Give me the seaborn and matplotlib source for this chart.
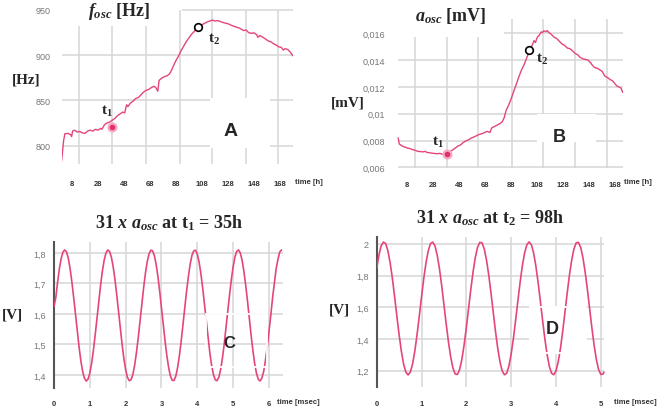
import matplotlib
matplotlib.use('Agg')
import matplotlib.pyplot as plt
import seaborn as sns
from matplotlib.patches import Rectangle

# ---- panel A: oscillation frequency vs time ----
freq_hours = [0, 1.5, 2.5, 5, 7, 7.7, 8.5, 10, 12, 14, 16, 18, 20, 22, 24, 26, 28, 30, 31, 33,
              35, 37, 39, 41, 43, 45, 47, 48.5, 50, 51, 53, 55, 57, 59, 61, 63, 65, 67, 69, 71,
              72.5, 74, 75, 77, 79, 81, 83, 84.5, 86, 88, 90, 92, 94, 96, 98, 100, 102, 103.5,
              105, 106.5, 108, 110, 112, 114, 116, 118, 120, 122, 125, 128, 131, 134, 137, 140,
              142, 144, 146, 148, 150, 151, 152.5, 155, 157, 159, 161, 163, 165, 167, 169,
              170.5, 172, 174, 176, 178]
freq_hz = [783, 805, 813, 813.5, 812, 810, 816, 817, 815, 815.5, 814, 813.5, 816, 817, 816, 818,
           817, 819, 818, 823, 825, 826, 828, 830, 833, 835, 837, 836, 845, 843, 847, 849, 852,
           853, 856, 859, 861, 862, 864, 865.5, 864, 860, 872, 874.5, 876, 877, 879, 883, 888,
           894, 899, 905, 910, 915, 919, 923, 926, 929, 931, 930.5, 933.5, 935, 936.5, 937.5,
           938.5, 937.5, 938, 937, 935.5, 934.5, 932.5, 931, 929.5, 927, 927.5, 924.5, 924,
           924.5, 922.5, 919.5, 921.5, 919.5, 917.5, 915.5, 914.5, 912.5, 911, 909, 908.5,
           905.5, 907, 906, 903, 899]
freq_t1 = [39, 821]
freq_t2 = [104.7, 930.5]
freq_yticks = [800, 850, 900, 950]
freq_ylabels = ['800', '850', '900', '950']

# ---- panel B: oscillation amplitude vs time ----
amp_hours = [1, 1.8, 4, 6, 8, 10, 12, 14, 16, 18, 20, 22, 23, 25, 27, 29, 31, 33, 35, 37, 39,
             41, 43, 45, 47, 49, 51, 53, 55, 57, 59, 61, 63, 65, 67, 69, 70.5, 71.5, 73, 75, 77,
             79, 81, 82.5, 84, 86, 88, 90, 92, 94, 96, 98, 100, 102, 104, 105.5, 106.5, 108,
             109.5, 111, 112, 113, 114.5, 115.5, 117, 119, 121, 123, 125, 127, 129, 131, 133,
             135, 137, 139, 141, 143, 145, 147, 149, 150.5, 152, 154, 156, 158, 160, 162, 164,
             166, 168, 169.5, 171, 172.5, 173.6]
amp_mv = [0.0082, 0.00775, 0.0076, 0.00752, 0.00745, 0.0074, 0.00733, 0.00728, 0.0072, 0.00718,
          0.00716, 0.0072, 0.00712, 0.0071, 0.00706, 0.00704, 0.00702, 0.00705, 0.00698,
          0.00703, 0.00708, 0.00718, 0.00731, 0.00745, 0.0076, 0.00768, 0.00785, 0.00798,
          0.00805, 0.00818, 0.00826, 0.00835, 0.00845, 0.0085, 0.00858, 0.00868, 0.00865,
          0.0086, 0.00895, 0.00905, 0.00915, 0.00925, 0.0094, 0.0097, 0.01025, 0.01065,
          0.01115, 0.0117, 0.01225, 0.0128, 0.0133, 0.0137, 0.0142, 0.0147, 0.0151, 0.01545,
          0.0153, 0.0157, 0.01585, 0.0161, 0.01605, 0.01618, 0.01612, 0.0162, 0.01605, 0.0159,
          0.0157, 0.0156, 0.0154, 0.0152, 0.0151, 0.0149, 0.01485, 0.0147, 0.0145, 0.0144,
          0.0142, 0.0141, 0.01405, 0.014, 0.0138, 0.0136, 0.01345, 0.0134, 0.01328, 0.01315,
          0.0128, 0.0127, 0.01255, 0.01245, 0.0122, 0.01205, 0.012, 0.0119, 0.0116]
amp_t1 = [38.3, 0.00701]
amp_t2 = [101.6, 0.01478]
amp_yticks = [0.006, 0.008, 0.010, 0.012, 0.014, 0.016]
amp_ylabels = ['0,006', '0,008', '0,01', '0,012', '0,014', '0,016']

hour_ticks = [8, 28, 48, 68, 88, 108, 128, 148, 168]

# ---- panel C: signal at t1 = 35h (read every 0.05 ms) ----
sig1_ms = [0.00, 0.05, 0.10, 0.15, 0.20, 0.25, 0.30, 0.35, 0.40, 0.45, 0.50, 0.55, 0.60, 0.65,
           0.70, 0.75, 0.80, 0.85, 0.90, 0.95, 1.00, 1.05, 1.10, 1.15, 1.20, 1.25, 1.30, 1.35,
           1.40, 1.45, 1.50, 1.55, 1.60, 1.65, 1.70, 1.75, 1.80, 1.85, 1.90, 1.95, 2.00, 2.05,
           2.10, 2.15, 2.20, 2.25, 2.30, 2.35, 2.40, 2.45, 2.50, 2.55, 2.60, 2.65, 2.70, 2.75,
           2.80, 2.85, 2.90, 2.95, 3.00, 3.05, 3.10, 3.15, 3.20, 3.25, 3.30, 3.35, 3.40, 3.45,
           3.50, 3.55, 3.60, 3.65, 3.70, 3.75, 3.80, 3.85, 3.90, 3.95, 4.00, 4.05, 4.10, 4.15,
           4.20, 4.25, 4.30, 4.35, 4.40, 4.45, 4.50, 4.55, 4.60, 4.65, 4.70, 4.75, 4.80, 4.85,
           4.90, 4.95, 5.00, 5.05, 5.10, 5.15, 5.20, 5.25, 5.30, 5.35, 5.40, 5.45, 5.50, 5.55,
           5.60, 5.65, 5.70, 5.75, 5.80, 5.85, 5.90, 5.95, 6.00, 6.05, 6.10, 6.15, 6.20, 6.25,
           6.30, 6.35]
sig1_v = [1.625, 1.653, 1.704, 1.748, 1.782, 1.803, 1.810, 1.803, 1.782, 1.748, 1.704, 1.653,
          1.598, 1.543, 1.491, 1.446, 1.411, 1.389, 1.380, 1.386, 1.406, 1.438, 1.481, 1.532,
          1.587, 1.642, 1.694, 1.740, 1.776, 1.800, 1.810, 1.805, 1.787, 1.756, 1.714, 1.664,
          1.609, 1.553, 1.501, 1.454, 1.417, 1.392, 1.381, 1.384, 1.401, 1.431, 1.472, 1.521,
          1.575, 1.631, 1.684, 1.732, 1.770, 1.796, 1.809, 1.807, 1.792, 1.763, 1.723, 1.674,
          1.620, 1.565, 1.511, 1.463, 1.424, 1.396, 1.382, 1.382, 1.396, 1.424, 1.463, 1.511,
          1.564, 1.620, 1.674, 1.722, 1.763, 1.792, 1.807, 1.809, 1.796, 1.770, 1.732, 1.685,
          1.631, 1.576, 1.521, 1.472, 1.431, 1.401, 1.384, 1.381, 1.392, 1.417, 1.454, 1.500,
          1.553, 1.609, 1.663, 1.713, 1.755, 1.787, 1.805, 1.810, 1.800, 1.776, 1.740, 1.695,
          1.643, 1.587, 1.532, 1.481, 1.438, 1.406, 1.386, 1.380, 1.389, 1.410, 1.446, 1.489,
          1.542, 1.595, 1.652, 1.700, 1.748, 1.779, 1.803, 1.810]
sig1_yticks = [1.4, 1.5, 1.6, 1.7, 1.8]
sig1_ylabels = ['1,4', '1,5', '1,6', '1,7', '1,8']
sig1_xticks = [0, 1, 2, 3, 4, 5, 6]

# ---- panel D: signal at t2 = 98h (read every 0.05 ms) ----
sig2_ms = [0.00, 0.05, 0.10, 0.15, 0.20, 0.25, 0.30, 0.35, 0.40, 0.45, 0.50, 0.55, 0.60, 0.65,
           0.70, 0.75, 0.80, 0.85, 0.90, 0.95, 1.00, 1.05, 1.10, 1.15, 1.20, 1.25, 1.30, 1.35,
           1.40, 1.45, 1.50, 1.55, 1.60, 1.65, 1.70, 1.75, 1.80, 1.85, 1.90, 1.95, 2.00, 2.05,
           2.10, 2.15, 2.20, 2.25, 2.30, 2.35, 2.40, 2.45, 2.50, 2.55, 2.60, 2.65, 2.70, 2.75,
           2.80, 2.85, 2.90, 2.95, 3.00, 3.05, 3.10, 3.15, 3.20, 3.25, 3.30, 3.35, 3.40, 3.45,
           3.50, 3.55, 3.60, 3.65, 3.70, 3.75, 3.80, 3.85, 3.90, 3.95, 4.00, 4.05, 4.10, 4.15,
           4.20, 4.25, 4.30, 4.35, 4.40, 4.45, 4.50, 4.55, 4.60, 4.65, 4.70, 4.75, 4.80, 4.85,
           4.90, 4.95, 5.00, 5.05, 5.07]
sig2_v = [1.844, 1.930, 1.988, 2.012, 2.002, 1.957, 1.881, 1.782, 1.666, 1.544, 1.427, 1.323,
          1.242, 1.191, 1.173, 1.191, 1.242, 1.323, 1.427, 1.544, 1.666, 1.782, 1.881, 1.957,
          2.002, 2.012, 1.988, 1.930, 1.844, 1.737, 1.617, 1.496, 1.383, 1.288, 1.218, 1.179,
          1.176, 1.207, 1.271, 1.362, 1.472, 1.593, 1.714, 1.824, 1.915, 1.979, 2.010, 2.007,
          1.968, 1.898, 1.803, 1.690, 1.569, 1.449, 1.342, 1.256, 1.198, 1.174, 1.184, 1.229,
          1.305, 1.404, 1.520, 1.642, 1.759, 1.863, 1.944, 1.995, 2.013, 1.995, 1.944, 1.863,
          1.759, 1.642, 1.520, 1.404, 1.305, 1.229, 1.184, 1.174, 1.198, 1.256, 1.342, 1.449,
          1.569, 1.690, 1.803, 1.898, 1.968, 2.007, 2.010, 1.979, 1.915, 1.824, 1.714, 1.593,
          1.472, 1.362, 1.271, 1.207, 1.176, 1.179, 1.191]
sig2_yticks = [1.2, 1.4, 1.6, 1.8, 2.0]
sig2_ylabels = ['1,2', '1,4', '1,6', '1,8', '2']
sig2_xticks = [0, 1, 2, 3, 4, 5]

PINK = '#e5457d'
GRID = '#d6d6d6'
W, H = 660, 410

sns.set_style('white')
plt.rcParams['font.family'] = ['Liberation Sans', 'DejaVu Sans']
plt.rcParams['mathtext.fontset'] = 'custom'
plt.rcParams['mathtext.rm'] = 'Liberation Serif:bold'
plt.rcParams['mathtext.it'] = 'Liberation Serif:italic:bold'
plt.rcParams['mathtext.bf'] = 'Liberation Serif:bold'
SERIF = ['Liberation Serif', 'DejaVu Serif']

fig = plt.figure(figsize=(W / 100, H / 100), dpi=100)


def add_ax(left, right, top, bottom):
    ax = fig.add_axes([left / W, 1 - bottom / H, (right - left) / W, (bottom - top) / H])
    for s in ax.spines.values():
        s.set_visible(False)
    ax.set_facecolor('none')
    return ax


def ftext(x, y, s, **kw):
    fig.text(x / W, 1 - y / H, s, ha='center', va='center', **kw)


def style_ticks(ax, xticks, yticks, ylabels, xpad, ypad):
    ax.set_xticks(xticks)
    ax.set_xticklabels([str(t) for t in xticks], fontsize=5.5, fontweight='bold', color='#333333')
    ax.set_yticks(yticks)
    ax.set_yticklabels(ylabels, fontsize=6.5, color='#777777')
    ax.tick_params(axis='x', length=0, pad=xpad)
    ax.tick_params(axis='y', length=0, pad=ypad)
    ax.set_xlabel('')
    ax.set_ylabel('')


# ================= A =================
axA = add_ax(61.6, 293, 8.9, 164.7)
axA.set_xlim(0, 178)
axA.set_ylim(780, 952)
for yv in [800, 850, 900]:
    axA.hlines(yv, 0, 178, color=GRID, lw=1.1, zorder=0)
axA.hlines(950, 92.6, 178, color=GRID, lw=1.1, zorder=0)
for i, xv in enumerate([13.4, 38.8, 65, 91, 116, 142, 166.5]):
    axA.vlines(xv, 780, 932 if i < 3 else 950, color=GRID, lw=1.1, zorder=0)
axA.add_patch(Rectangle((114, 797), 46, 55, facecolor='white', edgecolor='none', zorder=1))
sns.lineplot(x=freq_hours, y=freq_hz, ax=axA, color=PINK, lw=1.0, zorder=3)
axA.scatter([freq_t1[0]], [freq_t1[1]], s=32, facecolor='#e2306d', edgecolor='#f5aac2', lw=1.6, zorder=4)
axA.scatter([freq_t2[0]], [freq_t2[1]], s=30, facecolor='white', edgecolor='black', lw=1.2, zorder=4)
style_ticks(axA, hour_ticks, freq_yticks, freq_ylabels, 11.5, 8)

# ================= B =================
axB = add_ax(396.9, 624.4, 19.5, 169.1)
axB.set_xlim(0, 175)
axB.set_ylim(0.00595, 0.0171)
for yv in [0.006, 0.008, 0.010, 0.012, 0.014]:
    axB.hlines(yv, 1, 174, color=GRID, lw=1.1, zorder=0)
axB.hlines(0.016, 82, 174, color=GRID, lw=1.1, zorder=0)
for i, xv in enumerate([13.9, 38.3, 62.6, 88.3, 112.6, 137, 161.3]):
    axB.vlines(xv, 0.00595, 0.0157 if i < 3 else 0.01707, color=GRID, lw=1.1, zorder=0)
axB.add_patch(Rectangle((107.5, 0.0079), 46, 0.0021, facecolor='white', edgecolor='none', zorder=1))
sns.lineplot(x=amp_hours, y=amp_mv, ax=axB, color=PINK, lw=1.0, zorder=3)
axB.scatter([amp_t1[0]], [amp_t1[1]], s=32, facecolor='#e2306d', edgecolor='#f5aac2', lw=1.6, zorder=4)
axB.scatter([amp_t2[0]], [amp_t2[1]], s=30, facecolor='white', edgecolor='black', lw=1.2, zorder=4)
style_ticks(axB, hour_ticks, amp_yticks, amp_ylabels, 9.5, 8.5)

# ================= C =================
axC = add_ax(54, 283.3, 243.3, 389)
axC.set_xlim(0, 6.4)
axC.set_ylim(1.357, 1.835)
for yv in sig1_yticks:
    axC.hlines(yv, 0, 6.4, color=GRID, lw=1.1, zorder=0)
for xv in sig1_xticks[1:]:
    axC.vlines(xv, 1.357, 1.835, color=GRID, lw=1.1, zorder=0)
axC.spines['left'].set_visible(True)
axC.spines['left'].set_color('#555555')
axC.spines['left'].set_linewidth(1.5)
sns.lineplot(x=sig1_ms, y=sig1_v, ax=axC, color=PINK, lw=1.2, zorder=3)
axC.add_patch(Rectangle((4.25, 1.425), 1.7, 0.175, facecolor='none', edgecolor='white', lw=1.3, zorder=4))
style_ticks(axC, sig1_xticks, sig1_yticks, sig1_ylabels, 8.6, 6)

# ================= D =================
axD = add_ax(376.7, 605.3, 238.3, 388.3)
axD.set_xlim(0, 5.1)
axD.set_ylim(1.095, 2.042)
for yv in sig2_yticks:
    axD.hlines(yv, 0, 5.07, color=GRID, lw=1.1, zorder=0)
for xv in sig2_xticks[1:]:
    axD.vlines(xv, 1.095, 2.042, color=GRID, lw=1.1, zorder=0)
axD.spines['left'].set_visible(True)
axD.spines['left'].set_color('#555555')
axD.spines['left'].set_linewidth(1.5)
axD.add_patch(Rectangle((3.42, 1.31), 1.26, 0.29, facecolor='white', edgecolor='none', zorder=1))
sns.lineplot(x=sig2_ms, y=sig2_v, ax=axD, color=PINK, lw=1.2, zorder=3)
axD.add_patch(Rectangle((3.42, 1.31), 1.26, 0.29, facecolor='none', edgecolor='white', lw=1.3, zorder=4))
style_ticks(axD, sig2_xticks, sig2_yticks, sig2_ylabels, 9, 5.5)

# ================= texts =================
ftext(119, 12, r'$f_{osc}$ [Hz]', family=SERIF, fontweight='bold', fontsize=13)
ftext(451, 16, r'$a_{osc}$ [mV]', family=SERIF, fontweight='bold', fontsize=13)
ftext(169, 223, r'31 $x$ $a_{osc}$ at t$_{1}$ = 35h', family=SERIF, fontweight='bold', fontsize=13)
ftext(490, 218, r'31 $x$ $a_{osc}$ at t$_{2}$ = 98h', family=SERIF, fontweight='bold', fontsize=13)

ftext(26.5, 80, '[Hz]', family=SERIF, fontweight='bold', fontsize=11)
ftext(348, 103, '[mV]', family=SERIF, fontweight='bold', fontsize=11)
ftext(12, 315, '[V]', family=SERIF, fontweight='bold', fontsize=11)
ftext(339, 310, '[V]', family=SERIF, fontweight='bold', fontsize=11)

ftext(107, 111, r't$_{1}$', family=SERIF, fontweight='bold', fontsize=11)
ftext(214, 39, r't$_{2}$', family=SERIF, fontweight='bold', fontsize=11)
ftext(438, 142, r't$_{1}$', family=SERIF, fontweight='bold', fontsize=11)
ftext(542, 59, r't$_{2}$', family=SERIF, fontweight='bold', fontsize=11)

ftext(231, 131, 'A', fontweight='bold', fontsize=14)
ftext(559, 137, 'B', fontweight='bold', fontsize=13)
ftext(229, 344, 'C', fontweight='bold', fontsize=12)
ftext(552, 330, 'D', fontweight='bold', fontsize=13)

ftext(309, 183, 'time [h]', fontweight='bold', fontsize=5.5, color='#333333')
ftext(638, 183, 'time [h]', fontweight='bold', fontsize=5.5, color='#333333')
ftext(298, 403, 'time [msec]', fontweight='bold', fontsize=5.5, color='#333333')
ftext(635, 403, 'time [msec]', fontweight='bold', fontsize=5.5, color='#333333')

fig.savefig('out.png', dpi=100)
